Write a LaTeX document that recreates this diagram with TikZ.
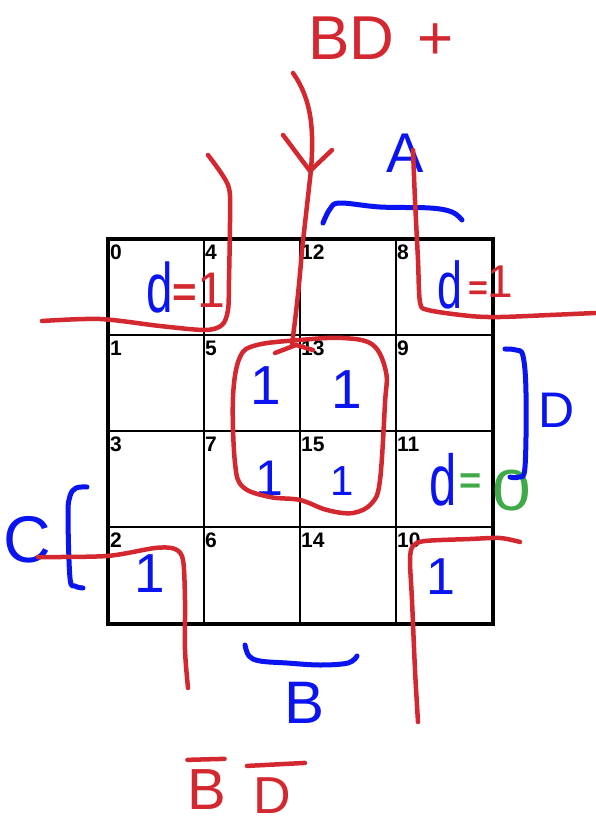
\documentclass[tikz,border=0pt]{standalone}
\usepackage{fontspec}
\setmainfont{Liberation Sans}
\usetikzlibrary{calc}
\definecolor{pred}{RGB}{212,40,48}
\definecolor{pblue}{RGB}{10,20,240}
\definecolor{pgreen}{RGB}{64,170,72}
\begin{document}
\begin{tikzpicture}[x=1pt,y=-1pt,
  redpen/.style={draw=pred,line width=4.5pt,line cap=round,line join=round},
  bluepen/.style={draw=pblue,line width=5pt,line cap=round,line join=round},
  thinline/.style={draw=black,line width=2.2pt},
  thickline/.style={draw=black,line width=4.2pt},
  cellnum/.style={anchor=north west,inner sep=0pt,font=\fontsize{21}{21}\selectfont\bfseries},
  hand/.style={inner sep=0pt,anchor=center},
  bluetxt/.style={hand,text=pblue},
  redtxt/.style={hand,text=pred},
  greentxt/.style={hand,text=pgreen}]
\useasboundingbox (0,0) rectangle (596,825);
\fill[white] (0,0) rectangle (596,825);

% grid
\foreach \x in {204,300,396} \draw[thinline] (\x,239) -- (\x,624);
\foreach \y in {335,431,527} \draw[thinline] (108,\y) -- (493,\y);
\draw[thickline] (108,239) rectangle (493,624);

% cell numbers
\node[cellnum] (c0)  at (110,245) {0};
\node[cellnum] (c4)  at (205,245) {4};
\node[cellnum] (c12) at (301,245) {12};
\node[cellnum] (c8)  at (397,245) {8};
\node[cellnum] (c1)  at (110,341) {1};
\node[cellnum] (c5)  at (205,341) {5};
\node[cellnum] (c13) at (301,341) {13};
\node[cellnum] (c9)  at (397,341) {9};
\node[cellnum] (c3)  at (110,437) {3};
\node[cellnum] (c7)  at (205,437) {7};
\node[cellnum] (c15) at (301,437) {15};
\node[cellnum] (c11) at (397,437) {11};
\node[cellnum] (c2)  at (110,533) {2};
\node[cellnum] (c6)  at (205,533) {6};
\node[cellnum] (c14) at (301,533) {14};
\node[cellnum] (c10) at (397,533) {10};

% blue ones in cells
\node[bluetxt,font=\fontsize{55}{55}\selectfont] (o5)  at (266,386) {1};
\node[bluetxt,font=\fontsize{55}{55}\selectfont] (o13) at (347,390) {1};
\node[bluetxt,font=\fontsize{50}{50}\selectfont] (o7)  at (269,478) {1};
\node[bluetxt,font=\fontsize{42}{42}\selectfont] (o15) at (342,481) {1};
\node[bluetxt,font=\fontsize{55}{55}\selectfont] (o2)  at (150,574) {1};
\node[bluetxt,font=\fontsize{52}{52}\selectfont] (o10) at (441,577) {1};

% d = 1 (top left)
\node[bluetxt,font=\fontsize{70}{70}\selectfont] (dl) at (160,287) {\scalebox{0.68}[1]{d}};
\node[redtxt,font=\fontsize{42}{42}\selectfont\bfseries] (el) at (185,296) {=};
\node[redtxt,font=\fontsize{50}{50}\selectfont] (ol) at (211,290) {1};
% d = 1 (top right)
\node[bluetxt,font=\fontsize{66}{66}\selectfont] (dr) at (450,285) {\scalebox{0.68}[1]{d}};
\node[redtxt,font=\fontsize{34}{34}\selectfont\bfseries] (er) at (478,291) {=};
\node[redtxt,font=\fontsize{46}{46}\selectfont] (or) at (500,282) {1};
% d = 0
\node[bluetxt,font=\fontsize{72}{72}\selectfont] (d0) at (443,480) {\scalebox{0.68}[1]{d}};
\node[greentxt,font=\fontsize{38}{38}\selectfont\bfseries] (e0) at (471,484) {=};
\node[greentxt,font=\fontsize{58}{58}\selectfont] (z0) at (512,491) {\scalebox{1.2}[1]{0}};

% variable labels
\node[bluetxt,font=\fontsize{56}{56}\selectfont] (lA) at (405,153) {A};
\node[bluetxt,font=\fontsize{50}{50}\selectfont] (lD) at (557,410) {D};
\node[bluetxt,font=\fontsize{66}{66}\selectfont] (lC) at (27,540) {C};
\node[bluetxt,font=\fontsize{60}{60}\selectfont] (lB) at (305,703) {B};

% red expressions
\node[redtxt,font=\fontsize{62}{62}\selectfont] (top) at (381,38) {BD \hspace{6pt}+};
\node[redtxt,font=\fontsize{58}{58}\selectfont] (bb) at (207,790) {B};
\node[redtxt,font=\fontsize{52}{52}\selectfont] (bd) at (272,796) {D};
\draw[redpen] ($(bb.north west)+(0,-10)$) -- ($(bb.north east)+(-2,-11)$);
\draw[redpen] ($(bd.north west)+(-6,-12)$) -- ($(bd.north east)+(14,-15)$);

% blue brackets
\draw[bluepen] plot[smooth,tension=0.6] coordinates {(323,223) (330,209) (340,203) (380,207) (430,208) (452,212) (462,220)};
\draw[bluepen] plot[smooth,tension=0.6] coordinates {(505,349) (516,350) (523,356) (526,393) (525,467) (519,477) (510,477)};
\draw[bluepen] plot[smooth,tension=0.6] coordinates {(87,487) (76,488) (70,496) (68,515) (70,578) (75,586) (83,588)};
\draw[bluepen] plot[smooth,tension=0.6] coordinates {(245,645) (249,656) (260,661) (287,663) (320,665) (348,663) (357,656)};

% red groupings
\draw[redpen] plot[smooth,tension=0.5] coordinates {(42,321) (100,319) (160,326) (205,330) (222,325) (228,310) (229,280) (230,215) (228,185) (208,155)};
\draw[redpen] plot[smooth,tension=0.5] coordinates {(413,150) (415,200) (418,260) (420,302) (428,310) (470,316) (500,317) (550,315) (595,313)};
\draw[redpen] plot[smooth,tension=0.5] coordinates {(38,557) (107,556) (155,548) (175,549) (183,560) (185,600) (185,650) (188,688)};
\draw[redpen] plot[smooth,tension=0.5] coordinates {(418,722) (415,670) (412,600) (410,560) (413,546) (425,541) (470,539) (500,538) (520,542)};
% centre loop
\draw[redpen] plot[smooth cycle,tension=0.6] coordinates {(300,340) (343,338) (373,345) (386,372) (385,403) (380,480) (372,503) (353,513) (327,510) (300,500) (270,497) (243,487) (235,463) (233,397) (240,357) (257,345)};

% arrow from BD+
\coordinate (astart) at (293,73);
\coordinate (atip) at (292,345);
\draw[redpen] (astart) .. controls (312,100) and (314,130) .. (311,170) -- (302,250) .. controls (298,300) and (295,320) .. (atip);
\draw[redpen] (283,135) -- (310,171) -- (332,150);
\draw[redpen] (275,353) -- (296,345) -- (313,350);
\end{tikzpicture}
\end{document}
